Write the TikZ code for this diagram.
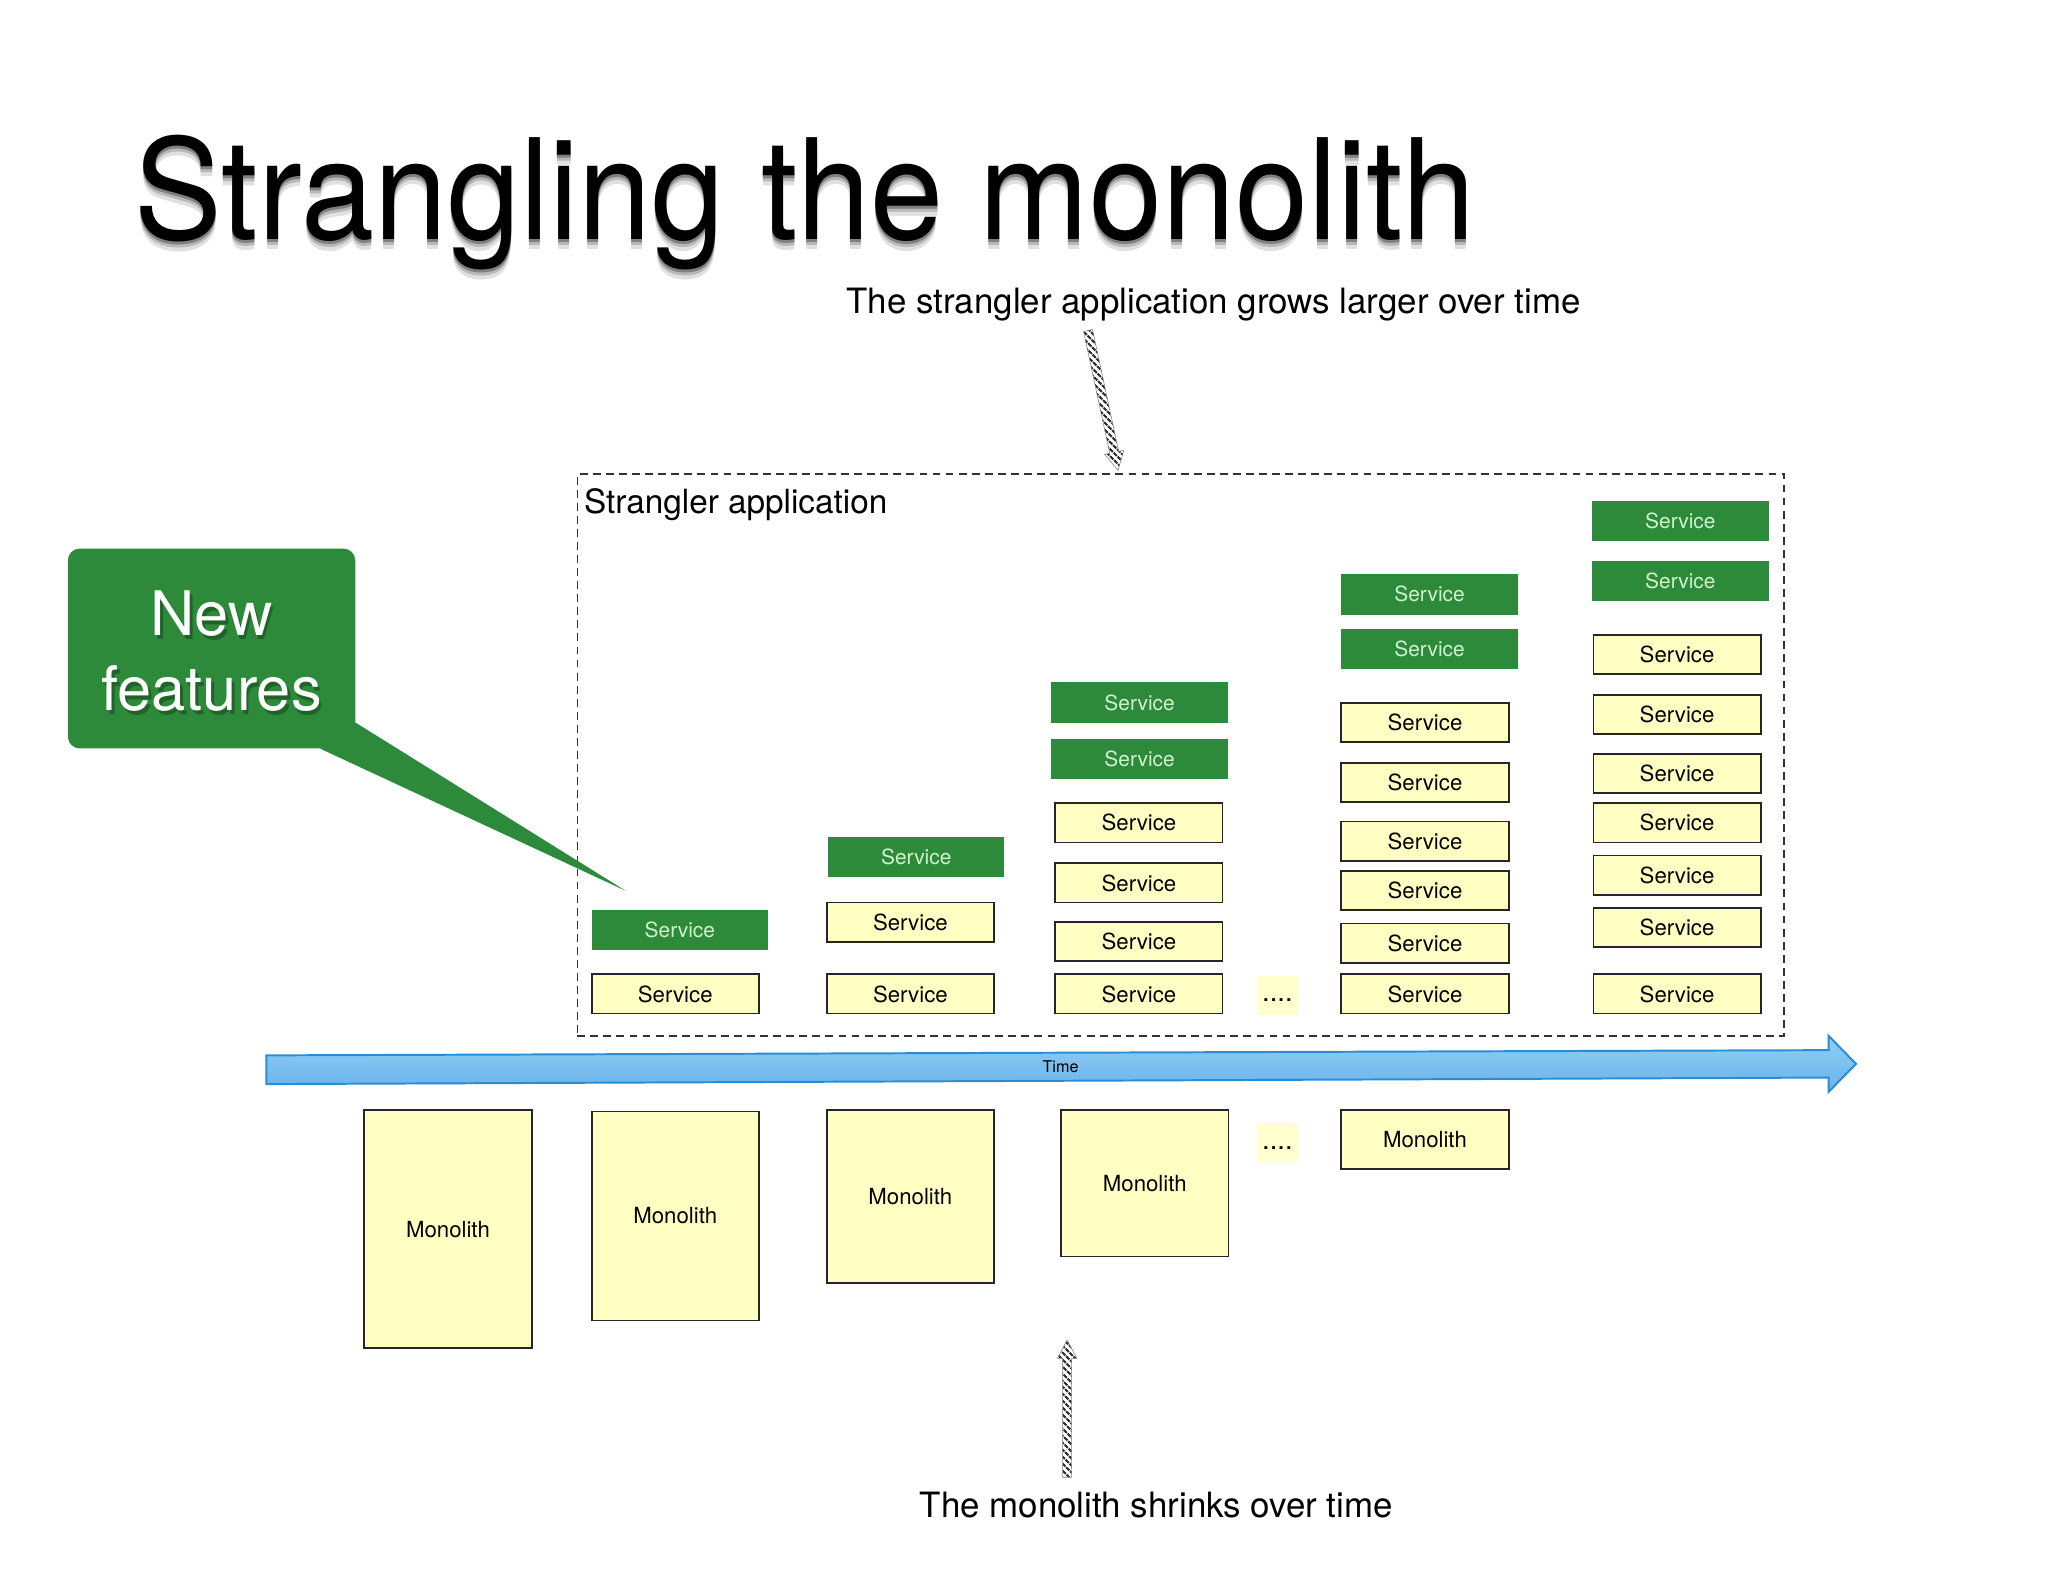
\documentclass[tikz,border=0pt]{standalone}
\usepackage{fontspec}
\setmainfont{TeX Gyre Heros}
\usetikzlibrary{calc,patterns.meta}

% Colours taken from the slide
\definecolor{newgreen}{RGB}{44,138,58}
\definecolor{newtext}{RGB}{208,243,204}
\definecolor{svcyellow}{RGB}{255,255,196}
\definecolor{dotyellow}{RGB}{255,255,206}
\definecolor{timetop}{RGB}{146,207,246}
\definecolor{timebot}{RGB}{104,178,234}
\definecolor{timeedge}{RGB}{40,140,215}

% title text with a soft shadow laid under it
\newcommand{\titleline}{\scalebox{0.94}[1]{Strangling the monolith}}
\newcommand{\shadowed}[1]{%
    \rlap{\textcolor{black!12}{\raisebox{-8pt}{#1}}}%
    \rlap{\textcolor{black!28}{\raisebox{-5pt}{#1}}}%
    \rlap{\textcolor{black!50}{\raisebox{-2.5pt}{#1}}}%
    #1}

\begin{document}
\begin{tikzpicture}[
        x=1pt, y=-1pt,
        every node/.style={font=\fontsize{17}{20}\selectfont},
        % Box Styles
        basebox/.style={
            rectangle,
            inner sep=0pt,
            align=center
        },
        svcbox/.style={
            basebox,
            draw=black!85,
            fill=svcyellow,
            line width=1.4pt,
            minimum width=128pt,
            minimum height=30pt
        },
        newbox/.style={
            basebox,
            fill=newgreen,
            text=newtext,
            minimum width=135pt,
            minimum height=31pt,
            font=\fontsize{16}{19}\selectfont
        },
        monobox/.style={svcbox, minimum height=#1},
        dotbox/.style={basebox, fill=dotyellow, minimum width=32pt, minimum height=30pt,
            text height=10pt, text depth=0pt, font=\fontsize{21}{24}\selectfont},
        framebox/.style={
            basebox,
            draw=black!80,
            line width=1.2pt,
            dash pattern=on 6pt off 4pt,
            minimum width=924pt,
            minimum height=430pt
        },
        callout/.style={
            basebox,
            fill=newgreen,
            rounded corners=9pt,
            minimum width=220pt,
            minimum height=153pt
        },
        % Text Styles
        caption/.style={anchor=base west, inner sep=0pt, font=\fontsize{26.7}{32}\selectfont},
        titletext/.style={anchor=base west, inner sep=0pt, font=\fontsize{107}{120}\selectfont},
        newtxt/.style={basebox, text=white, font=\fontsize{47}{58}\selectfont},
        % Arrow Styles
        hatch/.style={
            draw=black!50,
            line width=0.4pt,
            pattern={Lines[angle=-45,distance=4pt,line width=1.7pt]},
            pattern color=black!80
        },
        timearrow/.style={top color=timetop, bottom color=timebot, draw=timeedge, line width=1.5pt}
    ]

    \fill[white] (0,0) rectangle (1568,1211);
    \useasboundingbox (0,0) rectangle (1568,1211);

    % --- Title ---
    \node[titletext] (title) at (103,183) {\shadowed{\titleline}};

    \node[caption] (grows) at (648,240) {The strangler application grows larger over time};
    \node[caption] (shrinks) at (704,1162) {The monolith shrinks over time};

    % --- Strangler application frame ---
    \node[framebox] (strangler) at (904,578) {};
    \node[caption, font=\fontsize{25.5}{30}\selectfont] (stranglerlbl) at (447,393) {Strangler application};

    % --- New features callout ---
    \node[callout] (newfeat) at (162,496.5) {};
    \coordinate (newtip) at (479,682);
    \fill[newgreen] ($(newfeat.south east)+(-27,0)$) -- ($(newfeat.south east)+(0,-20)$) -- (newtip) -- cycle;
    \node[newtxt, text=newgreen!45!black, opacity=0.5] (newshadow) at ($(newfeat)+(2,5)$) {New\\features};
    \node[newtxt] (newlbl) at ($(newfeat)+(0,2)$) {New\\features};

    % --- Services, one column per step in time ---
    \node[newbox] (n1a) at (520.5,712) {Service};
    \node[svcbox] (s1a) at (517,761) {Service};

    \node[newbox] (n2a) at (701.5,656) {Service};
    \node[svcbox] (s2a) at (697,706) {Service};
    \node[svcbox] (s2b) at (697,761) {Service};

    \node[newbox] (n3a) at (872.5,538) {Service};
    \node[newbox] (n3b) at (872.5,581) {Service};
    \node[svcbox] (s3a) at (872,630) {Service};
    \node[svcbox] (s3b) at (872,676) {Service};
    \node[svcbox] (s3c) at (872,721) {Service};
    \node[svcbox] (s3d) at (872,761) {Service};

    \node[dotbox] (dots1) at (978,762) {....};

    \node[newbox] (n4a) at (1094.5,455) {Service};
    \node[newbox] (n4b) at (1094.5,497) {Service};
    \node[svcbox] (s4a) at (1091,553) {Service};
    \node[svcbox] (s4b) at (1091,599) {Service};
    \node[svcbox] (s4c) at (1091,644) {Service};
    \node[svcbox] (s4d) at (1091,682) {Service};
    \node[svcbox] (s4e) at (1091,722) {Service};
    \node[svcbox] (s4f) at (1091,761) {Service};

    \node[newbox] (n5a) at (1286.5,399) {Service};
    \node[newbox] (n5b) at (1286.5,445) {Service};
    \node[svcbox] (s5a) at (1284,501) {Service};
    \node[svcbox] (s5b) at (1284,547) {Service};
    \node[svcbox] (s5c) at (1284,592) {Service};
    \node[svcbox] (s5d) at (1284,630) {Service};
    \node[svcbox] (s5e) at (1284,670) {Service};
    \node[svcbox] (s5f) at (1284,710) {Service};
    \node[svcbox] (s5g) at (1284,761) {Service};

    % --- Time arrow ---
    \shade[timearrow] (204,808) -- (1400,804) -- (1400,793) -- (1421,814.5)
        -- (1400,836) -- (1400,825) -- (204,830) -- cycle;
    \node[font=\fontsize{12.4}{15}\selectfont] (time) at (812,817) {Time};

    % --- Monolith, shrinking ---
    \node[monobox=182pt] (m1) at (343,941) {Monolith};
    \node[monobox=160pt] (m2) at (517,931) {Monolith};
    \node[monobox=132pt] (m3) at (697,916) {Monolith};
    \node[monobox=112pt] (m4) at (876.5,906) {Monolith};
    \node[dotbox] (dots2) at (978,875) {....};
    \node[monobox=45pt] (m5) at (1091,872.5) {Monolith};

    % --- Hatched pointers ---
    \coordinate (growtail) at (833,253);
    \coordinate (growtip) at (856,360);
    \coordinate (growbase) at ($(growtip)!14pt!(growtail)$);
    \draw[hatch] ($(growtail)!3.5pt!90:(growtip)$) -- ($(growbase)!3.5pt!90:(growtip)$)
        -- ($(growbase)!7.5pt!90:(growtip)$) -- (growtip) -- ($(growbase)!7.5pt!-90:(growtip)$)
        -- ($(growbase)!3.5pt!-90:(growtip)$) -- ($(growtail)!3.5pt!-90:(growtip)$) -- cycle;

    \coordinate (shrinktail) at (817,1131);
    \coordinate (shrinktip) at (817,1026);
    \coordinate (shrinkbase) at ($(shrinktip)!14pt!(shrinktail)$);
    \draw[hatch] ($(shrinktail)!3.5pt!90:(shrinktip)$) -- ($(shrinkbase)!3.5pt!90:(shrinktip)$)
        -- ($(shrinkbase)!7.5pt!90:(shrinktip)$) -- (shrinktip) -- ($(shrinkbase)!7.5pt!-90:(shrinktip)$)
        -- ($(shrinkbase)!3.5pt!-90:(shrinktip)$) -- ($(shrinktail)!3.5pt!-90:(shrinktip)$) -- cycle;

\end{tikzpicture}
\end{document}
